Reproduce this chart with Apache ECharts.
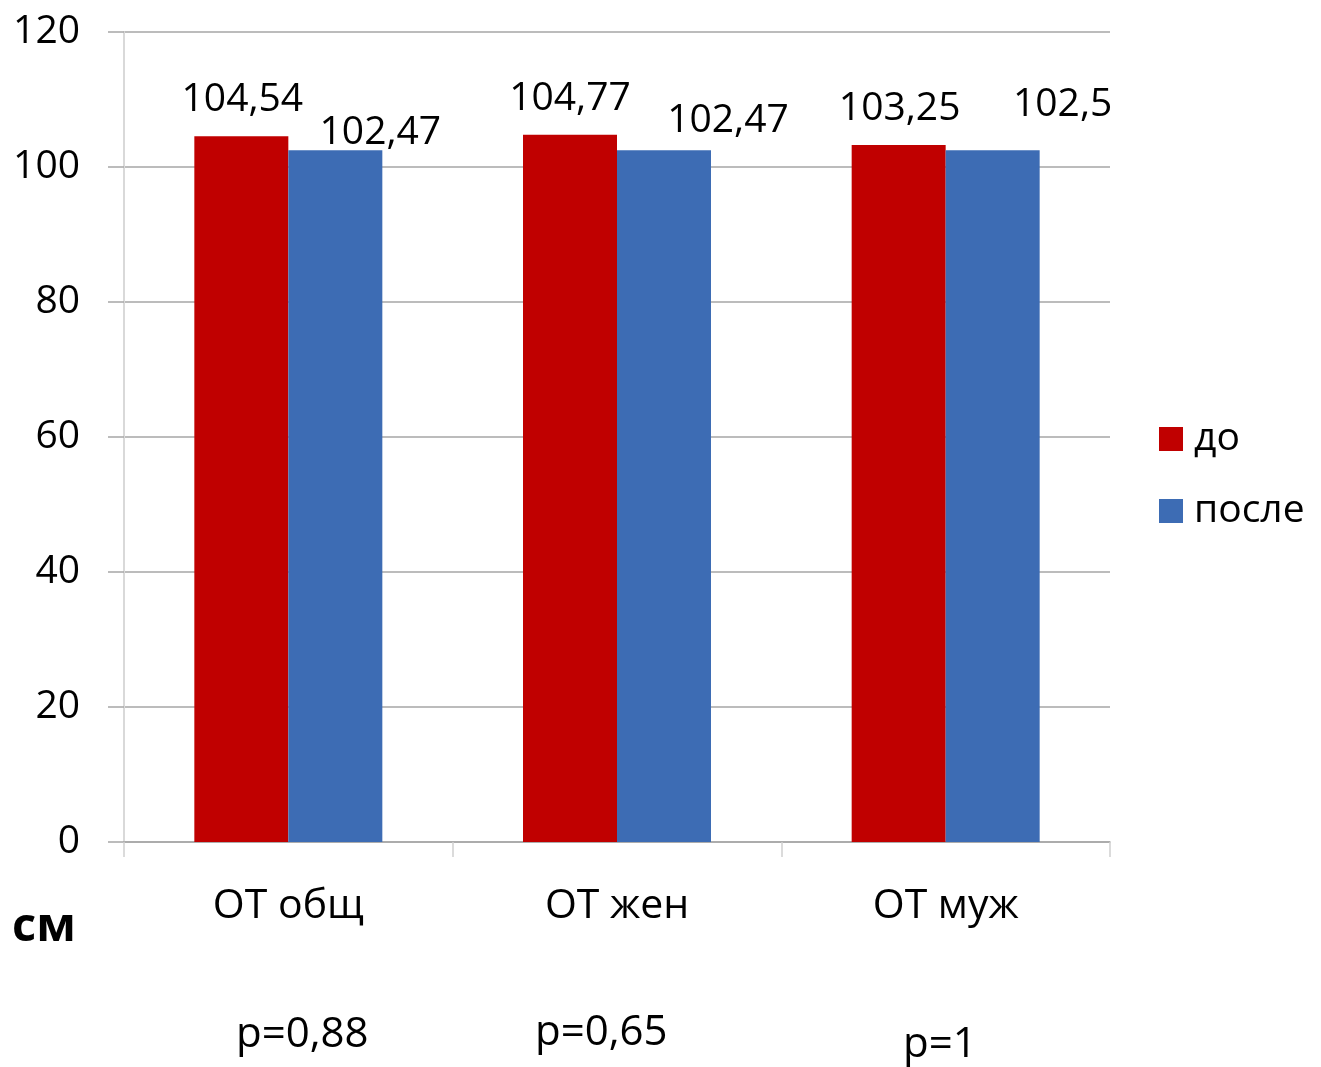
<!DOCTYPE html>
<html>
<head>
<meta charset="utf-8">
<script src="https://cdn.jsdelivr.net/npm/echarts@6/dist/echarts.min.js"></script>
<style>
  html, body { margin: 0; padding: 0; background: #fff; }
  #chart { width: 1321px; height: 1067px; }
</style>
</head>
<body>
<div id="chart"></div>
<script>
// Waist circumference (ОТ), cm, before and after
const categories = ['ОТ общ', 'ОТ жен', 'ОТ муж'];
const seriesNames = ['до', 'после'];
const valuesBefore = [104.54, 104.77, 103.25];
const valuesAfter = [102.47, 102.47, 102.5];
const pValues = ['p=0,88', 'p=0,65', 'p=1'];
const yTicks = { min: 0, max: 120, interval: 20 };
const unitLabel = 'см';

// label nudges (px) so the value texts sit where they were placed by hand
const offsetsBefore = [[1, -13], [0, -12], [1, -13]];
const offsetsAfter = [[45, 6], [64, -6], [70, -22]];

const FONT = '"Open Sans", "Noto Sans", sans-serif';
const RED = '#C00000';
const BLUE = '#3D6CB4';

function fmt(v) { return String(v).replace('.', ','); }

function buildData(values, offsets) {
  return values.map((v, i) => ({
    value: v,
    label: { offset: offsets[i] }
  }));
}

const chart = echarts.init(document.getElementById('chart'), null, { renderer: 'canvas' });

const labelStyle = {
  show: true,
  position: 'top',
  distance: 4,
  fontFamily: FONT,
  fontSize: 39,
  color: '#000',
  formatter: p => fmt(p.value)
};

chart.setOption({
  animation: false,
  backgroundColor: '#fff',
  grid: { left: 124, right: 211, top: 32, bottom: 225, containLabel: false },
  legend: {
    orient: 'vertical',
    left: 1159,
    top: 416,
    padding: 0,
    itemWidth: 24,
    itemHeight: 24,
    itemGap: 26,
    icon: 'rect',
    data: seriesNames,
    textStyle: { fontFamily: FONT, fontSize: 39, color: '#000', lineHeight: 40, padding: [0, 0, 6, 6] }
  },
  xAxis: {
    type: 'category',
    data: categories,
    axisLine: { show: true, lineStyle: { color: '#A6A6A6', width: 1.5 } },
    axisTick: { show: true, alignWithLabel: false, length: 15, lineStyle: { color: '#D0D0D0', width: 1.5 } },
    axisLabel: { fontFamily: FONT, fontSize: 41, color: '#000', margin: 44 }
  },
  yAxis: {
    type: 'value',
    min: yTicks.min,
    max: yTicks.max,
    interval: yTicks.interval,
    axisLine: { show: true, lineStyle: { color: '#D9D9D9', width: 2 } },
    axisTick: { show: true, length: 16, lineStyle: { color: '#A6A6A6', width: 1.5 } },
    splitLine: { show: true, lineStyle: { color: '#A6A6A6', width: 1.5 } },
    axisLabel: { fontFamily: FONT, fontSize: 39, color: '#000', margin: 44 }
  },
  series: [
    {
      name: seriesNames[0],
      type: 'bar',
      data: buildData(valuesBefore, offsetsBefore),
      itemStyle: { color: RED },
      barWidth: 94,
      barGap: '0%',
      label: labelStyle
    },
    {
      name: seriesNames[1],
      type: 'bar',
      data: buildData(valuesAfter, offsetsAfter),
      itemStyle: { color: BLUE },
      barWidth: 94,
      barGap: '0%',
      label: labelStyle
    }
  ],
  graphic: [
    {
      type: 'text', left: 12, top: 904,
      style: { text: unitLabel, fontFamily: FONT, fontSize: 47, fontWeight: 'bold', fill: '#000' }
    },
    {
      type: 'text', left: 236, top: 1014,
      style: { text: pValues[0], fontFamily: FONT, fontSize: 42, fill: '#000' }
    },
    {
      type: 'text', left: 535, top: 1012,
      style: { text: pValues[1], fontFamily: FONT, fontSize: 42, fill: '#000' }
    },
    {
      type: 'text', left: 903, top: 1024,
      style: { text: pValues[2], fontFamily: FONT, fontSize: 42, fill: '#000' }
    }
  ]
});
</script>
</body>
</html>
